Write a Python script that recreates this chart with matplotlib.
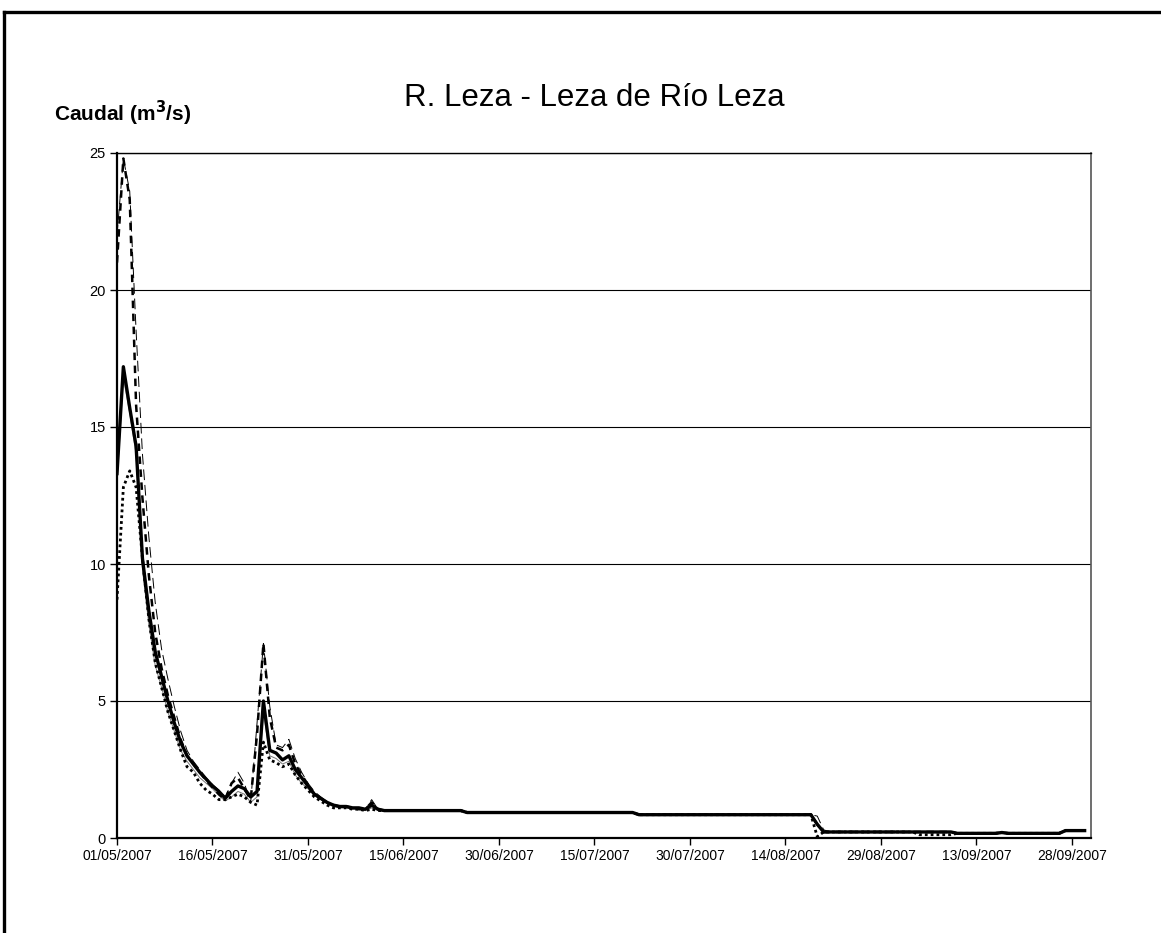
import matplotlib
matplotlib.use("Agg")
import matplotlib.pyplot as plt
import matplotlib.dates as mdates
from matplotlib.lines import Line2D
import pandas as pd

plt.rcParams['font.family'] = ['Liberation Sans', 'DejaVu Sans']

title = "R. Leza - Leza de Río Leza"
ylabel = r"Caudal (m$^{\mathbf{3}}$/s)"
start_date = "2007-05-01"
end_date = "2007-10-01"
tick_dates = ["2007-05-01", "2007-05-16", "2007-05-31", "2007-06-15", "2007-06-30",
              "2007-07-15", "2007-07-30", "2007-08-14", "2007-08-29", "2007-09-13",
              "2007-09-28"]
y_ticks = [0, 5, 10, 15, 20, 25]

# daily values, days 0-41 (01/05 - 11/06)
head_mean = [13.3, 17.2, 15.7, 14.3, 10.2, 8.3, 6.8, 5.9, 5.0, 4.2,
             3.5, 3.0, 2.7, 2.4, 2.15, 1.9, 1.7, 1.45, 1.7, 1.9,
             1.8, 1.5, 1.7, 5.0, 3.2, 3.1, 2.85, 3.0, 2.5, 2.2,
             1.9, 1.6, 1.45, 1.3, 1.2, 1.15, 1.15, 1.1, 1.1, 1.05,
             1.2, 1.05]
head_max = [21.0, 24.8, 23.3, 15.8, 12.4, 9.6, 7.5, 6.2, 5.2, 4.4,
            3.6, 3.0, 2.7, 2.4, 2.1, 1.85, 1.6, 1.4, 2.0, 2.2,
            1.8, 1.4, 3.8, 7.1, 4.4, 3.3, 3.2, 3.4, 2.7, 2.3,
            1.95, 1.6, 1.45, 1.3, 1.2, 1.15, 1.15, 1.1, 1.05, 1.05,
            1.3, 1.05]
head_min = [8.7, 12.8, 13.4, 12.8, 10.2, 8.0, 6.4, 5.5, 4.6, 3.9,
            3.2, 2.6, 2.4, 2.0, 1.75, 1.6, 1.4, 1.4, 1.5, 1.6,
            1.5, 1.3, 1.2, 3.5, 2.85, 2.75, 2.6, 2.7, 2.3, 2.0,
            1.75, 1.5, 1.35, 1.2, 1.1, 1.1, 1.1, 1.05, 1.05, 1.0,
            1.05, 1.0]
head_thin = [22.0, 24.8, 23.6, 18.5, 14.0, 11.0, 8.6, 6.9, 5.8, 4.8,
             3.9, 3.2, 2.8, 2.5, 2.2, 1.95, 1.75, 1.5, 2.0, 2.4,
             2.0, 1.3, 4.2, 7.1, 4.8, 3.4, 3.3, 3.6, 2.9, 2.4,
             2.0, 1.7, 1.5, 1.3, 1.2, 1.15, 1.15, 1.1, 1.1, 1.05,
             1.4, 1.05]
head_gray = [13.0, 16.8, 15.5, 14.0, 9.8, 7.8, 6.3, 5.5, 4.6, 3.9,
             3.2, 2.8, 2.5, 2.2, 2.0, 1.8, 1.55, 1.35, 1.5, 1.7,
             1.6, 1.3, 1.5, 4.6, 3.0, 2.9, 2.7, 2.8, 2.3, 2.0,
             1.8, 1.55, 1.4, 1.25, 1.15, 1.1, 1.1, 1.05, 1.05, 1.0,
             1.1, 1.0]

# daily values, days 42-152 (12/06 - 30/09)
tail_mean = [1.0, 1.0, 1.0, 1.0, 1.0, 1.0, 1.0, 1.0, 1.0, 1.0, 1.0, 1.0, 1.0,
             0.93, 0.93, 0.93, 0.93, 0.93, 0.93, 0.93, 0.93, 0.93, 0.93,
             0.93, 0.93, 0.93, 0.93, 0.93, 0.93, 0.93, 0.93, 0.93, 0.93,
             0.93, 0.93, 0.93, 0.93, 0.93, 0.93, 0.93,
             0.85, 0.85, 0.85, 0.85, 0.85, 0.85, 0.85, 0.85, 0.85, 0.85,
             0.85, 0.85, 0.85, 0.85, 0.85, 0.85, 0.85, 0.85, 0.85, 0.85,
             0.85, 0.85, 0.85, 0.85, 0.85, 0.85, 0.85, 0.85,
             0.5,
             0.22, 0.22, 0.22, 0.22, 0.22, 0.22, 0.22, 0.22, 0.22, 0.22,
             0.22, 0.22, 0.22, 0.22, 0.22, 0.22, 0.22, 0.22, 0.22, 0.22, 0.22,
             0.17, 0.17, 0.17, 0.17, 0.17, 0.17, 0.17,
             0.2,
             0.17, 0.17, 0.17, 0.17, 0.17, 0.17, 0.17, 0.17, 0.17,
             0.27, 0.27, 0.27, 0.27]
tail_min = [1.0, 1.0, 1.0, 1.0, 1.0, 1.0, 1.0, 1.0, 1.0, 1.0, 1.0, 1.0, 1.0,
            0.93, 0.93, 0.93, 0.93, 0.93, 0.93, 0.93, 0.93, 0.93, 0.93,
            0.93, 0.93, 0.93, 0.93, 0.93, 0.93, 0.93, 0.93, 0.93, 0.93,
            0.93, 0.93, 0.93, 0.93, 0.93, 0.93, 0.93,
            0.85, 0.85, 0.85, 0.85, 0.85, 0.85, 0.85, 0.85, 0.85, 0.85,
            0.85, 0.85, 0.85, 0.85, 0.85, 0.85, 0.85, 0.85, 0.85, 0.85,
            0.85, 0.85, 0.85, 0.85, 0.85, 0.85, 0.85, 0.85,
            0.05,
            0.22, 0.22, 0.22, 0.22, 0.22, 0.22, 0.22, 0.22, 0.22, 0.22,
            0.22, 0.22, 0.22, 0.22, 0.22, 0.12, 0.12, 0.12, 0.12, 0.12, 0.12,
            0.17, 0.17, 0.17, 0.17, 0.17, 0.17, 0.17,
            0.2,
            0.17, 0.17, 0.17, 0.17, 0.17, 0.17, 0.17, 0.17, 0.17,
            0.27, 0.27, 0.27, 0.27]
tail_thin = [1.0, 1.0, 1.0, 1.0, 1.0, 1.0, 1.0, 1.0, 1.0, 1.0, 1.0, 1.0, 1.0,
             0.93, 0.93, 0.93, 0.93, 0.93, 0.93, 0.93, 0.93, 0.93, 0.93,
             0.93, 0.93, 0.93, 0.93, 0.93, 0.93, 0.93, 0.93, 0.93, 0.93,
             0.93, 0.93, 0.93, 0.93, 0.93, 0.93, 0.93,
             0.85, 0.85, 0.85, 0.85, 0.85, 0.85, 0.85, 0.85, 0.85, 0.85,
             0.85, 0.85, 0.85, 0.85, 0.85, 0.85, 0.85, 0.85, 0.85, 0.85,
             0.85, 0.85, 0.85, 0.85, 0.85, 0.85, 0.85, 0.85,
             0.8,
             0.3, 0.22, 0.22, 0.22, 0.22, 0.22, 0.22, 0.22, 0.22, 0.22,
             0.22, 0.22, 0.22, 0.22, 0.22, 0.22, 0.22, 0.22, 0.22, 0.22, 0.22,
             0.17, 0.17, 0.17, 0.17, 0.17, 0.17, 0.17,
             0.2,
             0.17, 0.17, 0.17, 0.17, 0.17, 0.17, 0.17, 0.17, 0.17,
             0.27, 0.27, 0.27, 0.27]

mean_q = head_mean + tail_mean
max_q = head_max + tail_mean
min_q = head_min + tail_min
thin_q = head_thin + tail_thin
gray_q = head_gray + tail_mean

dates = pd.date_range(start_date, periods=len(mean_q), freq="D")

W, H = 1161, 933
fig = plt.figure(figsize=(W / 100, H / 100), dpi=100)
ax = fig.add_axes([117 / W, 1 - 838 / H, (1091 - 117) / W, (838 - 153) / H])

ax.plot(dates, gray_q, color="#777777", lw=0.7, zorder=2)
ax.plot(dates, thin_q, color="black", lw=0.7, dashes=(11, 5), zorder=2)
ax.plot(dates, min_q, color="black", lw=2.0, dashes=(1, 1.1), zorder=3)
ax.plot(dates, max_q, color="black", lw=1.8, dashes=(3, 2.2), zorder=3)
ax.plot(dates, mean_q, color="black", lw=2.4, zorder=4)

ax.set_xlim(pd.Timestamp(start_date), pd.Timestamp(end_date))
ax.set_ylim(0, 25)
ax.set_yticks(y_ticks)
ax.set_yticklabels([str(v) for v in y_ticks], fontsize=10.5)
ax.set_xticks(pd.to_datetime(tick_dates))
ax.xaxis.set_major_formatter(mdates.DateFormatter("%d/%m/%Y"))
for lab in ax.get_xticklabels():
    lab.set_fontsize(10)
ax.tick_params(axis="both", direction="out", length=5, width=1, color="black", pad=3)
ax.grid(axis="y", color="black", lw=0.8)
ax.set_axisbelow(True)

ax.spines["left"].set_linewidth(1.6)
ax.spines["bottom"].set_linewidth(1.6)
ax.spines["top"].set_linewidth(1.0)
ax.spines["right"].set_linewidth(1.2)
ax.spines["right"].set_color("#555555")

fig.text(594 / W, 1 - 98 / H, title, fontsize=22.5, ha="center", va="center")
fig.text(54 / W, 1 - 113 / H, ylabel, fontsize=15, fontweight="bold", ha="left", va="center")

# outer chart frame (left and top edges visible)
fig.add_artist(Line2D([4 / W, 4 / W], [0, 1 - 12 / H], transform=fig.transFigure, color="black", lw=2.4))
fig.add_artist(Line2D([4 / W, 1], [1 - 12 / H, 1 - 12 / H], transform=fig.transFigure, color="black", lw=2.4))

fig.savefig("out.png", dpi=100)
